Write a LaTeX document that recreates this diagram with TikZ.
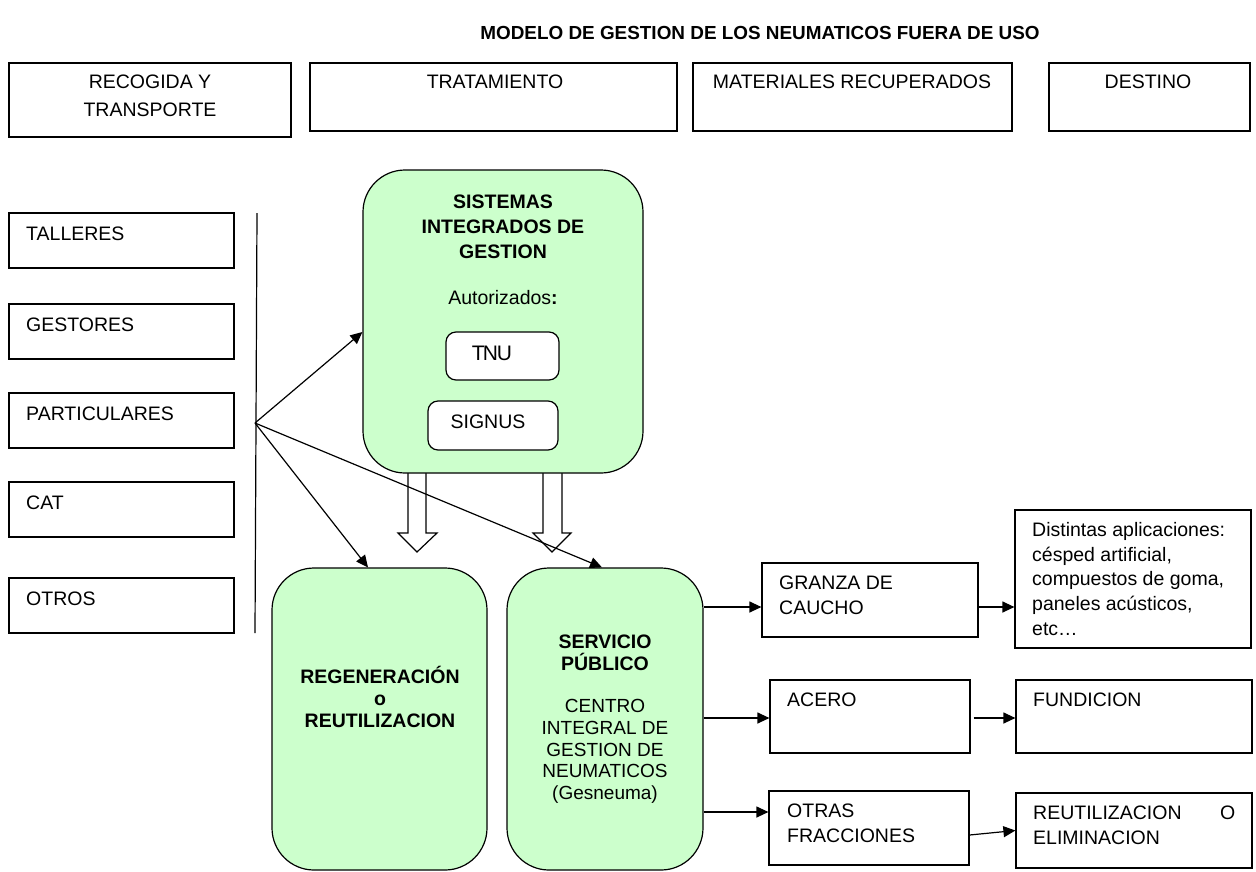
\documentclass[tikz,border=0pt]{standalone}
\usepackage{fontspec}
\setmainfont{Liberation Sans}
\usetikzlibrary{arrows.meta}
\definecolor{sigfill}{HTML}{CCFFCC}
\tikzset{
  box/.style={draw, line width=1.2pt, inner sep=0pt, fill=white},
  greenbox/.style={draw, line width=1.2pt, fill=sigfill, rounded corners=42pt, inner sep=0pt},
  tagbox/.style={draw, line width=1.2pt, fill=white, rounded corners=10pt, inner sep=0pt},
  txt/.style={inner sep=0pt, font=\fontsize{19.5}{25}\selectfont},
  arr/.style={line width=1.2pt, -{Triangle[length=12pt,width=11pt]}},
  hollow/.style={draw, line width=1.2pt, fill=white}
}
\begin{document}
\begin{tikzpicture}[x=1pt,y=-1pt]
				\useasboundingbox (0,0) rectangle (1256,871);
				\node [txt,font=\fontsize{18.9}{22}\bfseries] (title) at (760,33) {MODELO DE GESTION DE LOS NEUMATICOS FUERA DE USO};
				% cabecera
				\node [box,minimum width=282pt,minimum height=74pt] (hrec) at (150,100) {};
				\node [txt,align=center,anchor=north,font=\fontsize{19.5}{28}\selectfont] at (150,75) {RECOGIDA Y\\TRANSPORTE};
				\node [box,minimum width=367pt,minimum height=68pt] (htra) at (493.5,97) {};
				\node [txt,anchor=north] at (495,75) {TRATAMIENTO};
				\node [box,minimum width=319pt,minimum height=68pt] (hmat) at (852.5,97) {};
				\node [txt,anchor=north] at (852,75) {MATERIALES RECUPERADOS};
				\node [box,minimum width=201pt,minimum height=68pt] (hdes) at (1149.5,97) {};
				\node [txt,anchor=north] at (1148,75) {DESTINO};
				% origen
				\node [box,minimum width=225pt,minimum height=55pt] (tal) at (121.5,240.5) {};
				\node [txt,anchor=north west] at (26,227) {TALLERES};
				\node [box,minimum width=225pt,minimum height=55pt] (ges) at (121.5,331.5) {};
				\node [txt,anchor=north west] at (26,318) {GESTORES};
				\node [box,minimum width=225pt,minimum height=55pt] (par) at (121.5,420.5) {};
				\node [txt,anchor=north west] at (26,407) {PARTICULARES};
				\node [box,minimum width=225pt,minimum height=55pt] (cat) at (121.5,509.5) {};
				\node [txt,anchor=north west] at (26,496) {CAT};
				\node [box,minimum width=225pt,minimum height=55pt] (otr) at (121.5,605.5) {};
				\node [txt,anchor=north west] at (26,592) {OTROS};
				\coordinate (bartop) at (257,213);
				\coordinate (barbot) at (255,633);
				\coordinate (hub) at (255,423);
				\draw [line width=1.2pt] (bartop) -- (barbot);
				% flechas huecas
				\draw [hollow] (408,473) -- (408,533) -- (398,533) -- (417,552) -- (437,533) -- (426,533) -- (426,473);
				\draw [hollow] (543,473) -- (543,533) -- (533,533) -- (552,552) -- (571,533) -- (562,533) -- (562,473);
				% SIG
				\node [greenbox,minimum width=280pt,minimum height=303pt] (sis) at (503,321.5) {};
				\node [txt,align=center,anchor=north,font=\fontsize{19.5}{25}\bfseries] at (503,195) {SISTEMAS\\INTEGRADOS DE\\GESTION};
				\node [txt,anchor=north] at (503,290) {Autorizados\textbf{:}};
				\node [tagbox,minimum width=113pt,minimum height=48pt] (tnu) at (502.5,356) {};
				\node [txt,anchor=north,font=\fontsize{21}{25}\selectfont] at (492,346) {T\kern-2pt N\kern-1pt U};
				\node [tagbox,minimum width=130pt,minimum height=49pt] (signus) at (493,425.5) {};
				\node [txt,anchor=north] at (488,415) {SIGNUS};
				% tratamiento
				\node [greenbox,minimum width=215pt,minimum height=302pt] (reg) at (379.5,719) {};
				\node [txt,align=center,anchor=north,font=\fontsize{19.5}{22}\bfseries] at (380,666) {REGENERACIÓN\\o\\REUTILIZACION};
				\node [greenbox,minimum width=196pt,minimum height=302pt] (serv) at (605,719) {};
				\node [txt,align=center,anchor=north,font=\fontsize{19.5}{22}\bfseries] at (605,635) {SERVICIO\\PÚBLICO};
				\node [txt,align=center,anchor=north,font=\fontsize{19}{21.8}\selectfont] at (605,699) {CENTRO\\INTEGRAL DE\\GESTION DE\\NEUMATICOS\\(Gesneuma)};
				% materiales y destino
				\node [box,minimum width=216pt,minimum height=74pt] (granza) at (870,600) {};
				\node [txt,align=left,anchor=north west] at (779,576) {GRANZA DE\\CAUCHO};
				\node [box,minimum width=236pt,minimum height=138pt] (dist) at (1133,579) {};
				\node [txt,align=left,anchor=north west,font=\fontsize{19.5}{24.7}\selectfont] at (1032,522) {Distintas aplicaciones:\\césped artificial,\\compuestos de goma,\\paneles acústicos,\\etc…};
				\node [box,minimum width=200pt,minimum height=73pt] (acero) at (870,716.5) {};
				\node [txt,anchor=north west] at (787,693) {ACERO};
				\node [box,minimum width=236pt,minimum height=73pt] (fund) at (1134,716.5) {};
				\node [txt,anchor=north west] at (1033,693) {FUNDICION};
				\node [box,minimum width=200pt,minimum height=74pt] (otras) at (869,828) {};
				\node [txt,align=left,anchor=north west] at (787,804) {OTRAS\\FRACCIONES};
				\node [box,minimum width=236pt,minimum height=75pt] (reut) at (1134,830.5) {};
				\node [txt,align=left,anchor=north west,text width=202pt] at (1033,806) {REUTILIZACION\hfill O\\ELIMINACION};
				% conectores
				\draw [arr] (hub) -- ([yshift=-10.5pt]sis.west);
				\draw [arr] (hub) -- ([xshift=-11.5pt]reg.north);
				\draw [arr] (hub) -- ([xshift=-3pt]serv.north);
				\draw [arr] ([yshift=-7pt]serv.east |- granza.west) -- ([yshift=-7pt]granza.west);
				\draw [arr] ([yshift=-1.5pt]serv.east |- acero.west) -- ([yshift=-1.5pt]acero.west);
				\draw [arr] ([yshift=16pt]serv.east |- otras.west) -- ([yshift=16pt]otras.west);
				\draw [arr] ([yshift=-7pt]granza.east) -- ([yshift=-28pt]dist.west);
				\draw [arr] ([xshift=3pt,yshift=-1.5pt]acero.east) -- ([yshift=-1.5pt]fund.west);
				\draw [arr] ([yshift=-7pt]otras.east) -- (reut.west);
			\end{tikzpicture}
\end{document}
